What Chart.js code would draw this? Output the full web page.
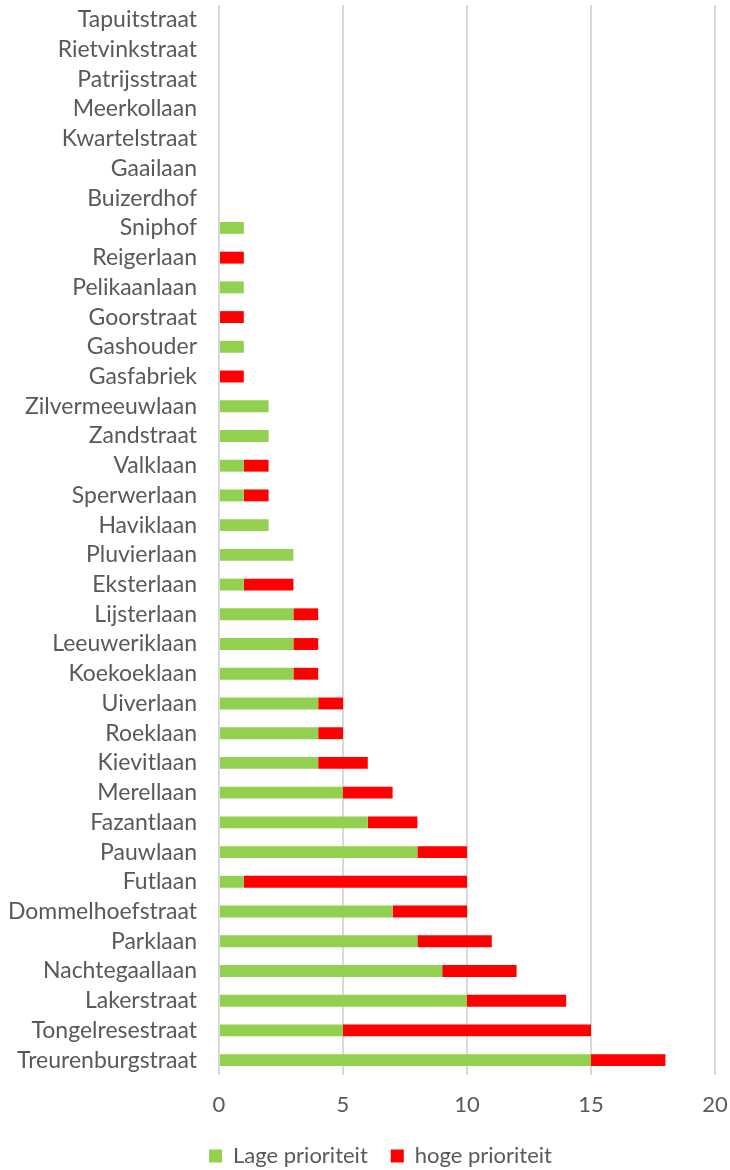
<!DOCTYPE html>
<html>
<head>
<meta charset="utf-8">
<script src="https://cdn.jsdelivr.net/npm/chart.js@4/dist/chart.umd.min.js"></script>
<style>
  html, body { margin:0; padding:0; background:#fff; }
  #wrap { width:730px; height:1170px; }
</style>
</head>
<body>
<div id="wrap"><canvas id="chart" width="730" height="1170"></canvas></div>
<script>
// ── Data ──────────────────────────────────────────────────────────────────────
const STREETS = [
  "Tapuitstraat","Rietvinkstraat","Patrijsstraat","Meerkollaan","Kwartelstraat","Gaailaan",
  "Buizerdhof","Sniphof","Reigerlaan","Pelikaanlaan","Goorstraat","Gashouder","Gasfabriek",
  "Zilvermeeuwlaan","Zandstraat","Valklaan","Sperwerlaan","Haviklaan","Pluvierlaan","Eksterlaan",
  "Lijsterlaan","Leeuweriklaan","Koekoeklaan","Uiverlaan","Roeklaan","Kievitlaan","Merellaan",
  "Fazantlaan","Pauwlaan","Futlaan","Dommelhoefstraat","Parklaan","Nachtegaallaan","Lakerstraat",
  "Tongelresestraat","Treurenburgstraat"
];
const LAGE = [0,0,0,0,0,0, 0,1,0,1,0,1,0, 2,2,1,1,2,3,1, 3,3,3,4,4,4,5, 6,8,1,7,8,9,10, 5,15];
const HOGE = [0,0,0,0,0,0, 0,0,1,0,1,0,1, 0,0,1,1,0,0,2, 1,1,1,1,1,2,2, 2,2,9,3,3,3,4, 10,3];
const X_TICKS = [0, 5, 10, 15, 20];

const TEXT = "#595959";
const FONT = "Lato, 'Open Sans', sans-serif";

// nudge the legend to where the original sits (a bit right and down)
const legendShift = {
  id: "legendShift",
  afterLayout(chart) {
    const lg = chart.legend;
    if (!lg) return;
    lg.left += 23; lg.right += 23;
    lg.top += 7;  lg.bottom += 7;
  }
};

// ── Chart ─────────────────────────────────────────────────────────────────────
new Chart(document.getElementById("chart").getContext("2d"), {
  type: "bar",
  data: {
    labels: STREETS,
    datasets: [
      { label:"Lage prioriteit", data:LAGE, backgroundColor:"#92d050", barPercentage:0.4, categoryPercentage:1 },
      { label:"hoge prioriteit", data:HOGE, backgroundColor:"#ff0000", barPercentage:0.4, categoryPercentage:1 }
    ]
  },
  plugins: [legendShift],
  options: {
    indexAxis: "y",
    responsive:false, animation:false,
    layout: { padding:{ top:5, right:15, bottom:0, left:0 } },
    plugins: {
      legend: {
        position:"bottom",
        labels:{ boxWidth:13, boxHeight:13, padding:23, color:TEXT, font:{ family:FONT, size:22 } }
      },
      tooltip: { enabled:false }
    },
    scales: {
      x: {
        stacked:true, min:0, max:20,
        afterBuildTicks: s => { s.ticks = X_TICKS.map(v => ({ value:v })); },
        grid:{ color:"#d9d9d9", lineWidth:2, drawTicks:false },
        border:{ display:false },
        ticks:{ color:TEXT, padding:17, font:{ family:FONT, size:22 } },
        afterFit: s => { s.height = 40; s.paddingLeft = 0; s.paddingRight = 0; }
      },
      y: {
        stacked:true,
        grid:{ display:false },
        border:{ display:false },
        ticks:{ color:TEXT, padding:14, autoSkip:false, font:{ family:FONT, size:23 } },
        afterFit: s => { s.width = 219; s.paddingTop = 0; s.paddingBottom = 0; }
      }
    }
  }
});
</script>
</body>
</html>
